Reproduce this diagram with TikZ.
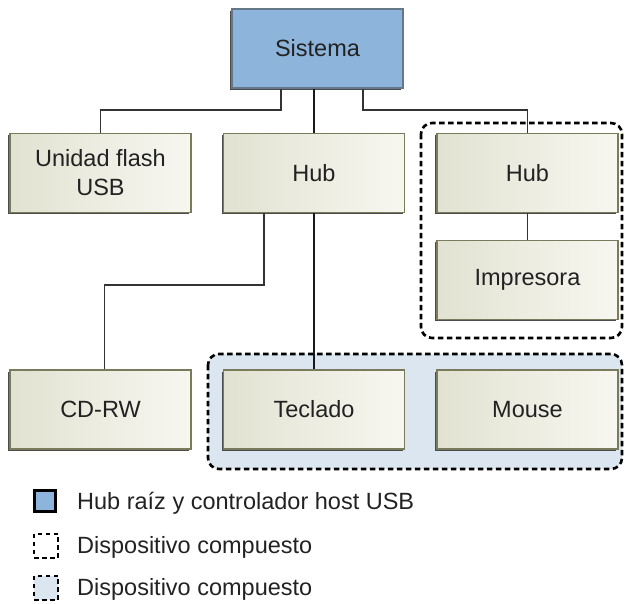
\documentclass[tikz,border=0pt]{standalone}
\usepackage{fontspec}
\setmainfont{Liberation Sans}
\usetikzlibrary{shadows}
\definecolor{txt}{HTML}{222222}
\definecolor{rootfill}{HTML}{8DB4DA}
\definecolor{rootedge}{HTML}{66778A}
\definecolor{devleft}{HTML}{E2E2D2}
\definecolor{devright}{HTML}{F7F7F0}
\definecolor{devedge}{HTML}{7A7A5C}
\definecolor{groupfill}{HTML}{DBE6F1}
\tikzset{
  devbox/.style={draw=devedge, line width=1.4pt, left color=devleft, right color=devright,
    minimum width=181pt, minimum height=79pt, inner sep=0pt, align=center, text=txt,
    general shadow={fill=black!70, shadow xshift=-2pt, shadow yshift=-2pt}},
  rootbox/.style={draw=rootedge, line width=1.4pt, fill=rootfill,
    minimum width=171pt, minimum height=79pt, inner sep=0pt, text=txt,
    general shadow={fill=black!70, shadow xshift=-2pt, shadow yshift=-2pt}},
  wire/.style={draw=black!80, line width=1.3pt},
  mainwire/.style={draw=black!90, line width=2.2pt},
  group/.style={draw=black, line width=2.6pt, dash pattern=on 5.5pt off 3.5pt, rounded corners=11pt},
  legtext/.style={anchor=west, inner sep=0pt, text=txt},
}
\begin{document}
\begin{tikzpicture}[x=1pt, y=-1pt, font=\fontsize{23.5}{29}\selectfont]
\useasboundingbox (0,0) rectangle (625,604);

% composite device groups
\draw[group] (421,123) rectangle (622,338);
\draw[group, fill=groupfill] (208,354) rectangle (622,469);

% devices
\node[rootbox] (sistema) at (317.5,48.5) {Sistema};
\node[devbox] (unidad) at (100.5,173) {Unidad flash\\USB};
\node[devbox] (hub) at (314,173) {Hub};
\node[devbox] (hubb) at (527.5,173) {Hub};
\node[devbox] (impresora) at (527.5,280) {Impresora};
\node[devbox] (cdrw) at (100.5,409.5) {CD-RW};
\node[devbox] (teclado) at (314,409.5) {Teclado};
\node[devbox] (mouse) at (527.5,409.5) {Mouse};

% connectors
\coordinate (jl) at (281,110);
\coordinate (jr) at (363,110);
\coordinate (jc) at (264,285);
\draw[wire] (sistema.south -| jl) -- (jl) -| (unidad.north);
\draw[wire] (sistema.south -| jr) -- (jr) -| (hubb.north);
\draw[mainwire] (sistema.south -| hub.north) -- (hub.north);
\draw[mainwire] (hub.south) -- (teclado.north);
\draw[wire] (hub.south -| jc) -- (jc) -| ([xshift=4pt]cdrw.north);
\draw[wire] (hubb.south) -- (impresora.north);

% legend
\node[draw=black, line width=2.4pt, fill=rootfill, minimum size=21pt, inner sep=0pt,
  general shadow={fill=black!70, shadow xshift=-1.5pt, shadow yshift=-1.5pt}] (legroot) at (45,501) {};
\node[legtext] (legroottext) at (77,503) {Hub raíz y controlador host USB};
\node[draw=black, line width=2.4pt, dash pattern=on 4.5pt off 3.5pt, minimum size=24pt, inner sep=0pt] (legdash) at (46,546) {};
\node[legtext] (legdashtext) at (77,547) {Dispositivo compuesto};
\node[draw=black, line width=2.4pt, dash pattern=on 4.5pt off 3.5pt, fill=groupfill, minimum size=24pt, inner sep=0pt] (legblue) at (46,588) {};
\node[legtext] (legbluetext) at (77,589) {Dispositivo compuesto};
\end{tikzpicture}
\end{document}
